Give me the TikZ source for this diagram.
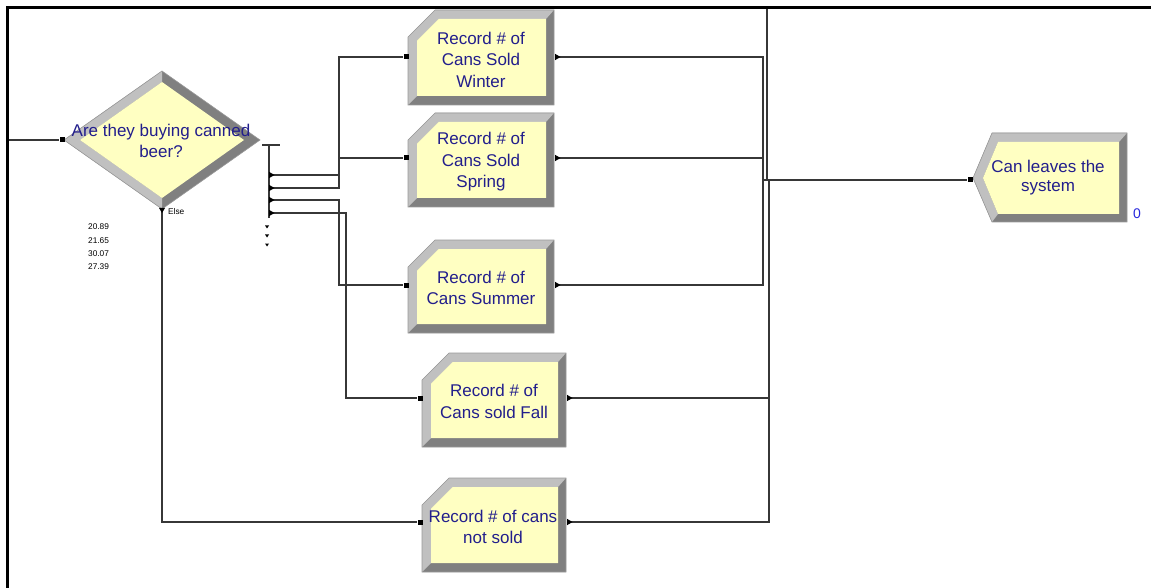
\documentclass[tikz,border=0pt]{standalone}
\usepackage{fontspec}
\setmainfont{Liberation Sans}
\definecolor{modfill}{RGB}{255,255,194}
\definecolor{bevlight}{RGB}{192,192,192}
\definecolor{bevdark}{RGB}{128,128,128}
\definecolor{modtext}{RGB}{34,30,140}
\definecolor{wirecol}{RGB}{55,55,55}
\definecolor{countblue}{RGB}{40,40,220}

\tikzset{
  wire/.style={draw=wirecol,line width=1.3pt},
  frameline/.style={draw=black,line width=3pt},
  modlabel/.style={text=modtext,align=center,inner sep=0pt,
    font=\fontsize{17}{21.5}\selectfont},
  smalltxt/.style={inner sep=0pt,font=\fontsize{8.3}{13.3}\selectfont},
  inport/.style={rectangle,fill=black,minimum size=5pt,inner sep=0pt},
  outline/.style={draw=bevdark!80,line width=0.6pt},
}

% Arena-style "Record" module: bevelled box with a cut upper-left corner
\newcommand\recordbox[4]{% x1 y1 x2 y2
  \fill[bevdark] (#1,{#2+27}) -- ({#1+27},#2) -- (#3,#2) -- (#3,#4) -- (#1,#4) -- cycle;
  \fill[bevlight] (#1,#4) -- (#1,{#2+27}) -- ({#1+27},#2) -- (#3,#2)
     -- ({#3-8},{#2+9}) -- ({#1+30.7},{#2+9}) -- ({#1+9},{#2+30.7}) -- ({#1+9},{#4-9}) -- cycle;
  \fill[modfill] ({#1+9},{#2+30.7}) -- ({#1+30.7},{#2+9}) -- ({#3-8},{#2+9})
     -- ({#3-8},{#4-9}) -- ({#1+9},{#4-9}) -- cycle;
  \draw[outline] (#1,{#2+27}) -- ({#1+27},#2) -- (#3,#2) -- (#3,#4) -- (#1,#4) -- cycle;
}
% small exit marker pointing right
\newcommand\exitmark[1]{\fill[black] (#1) ++(0,-3.2) -- ++(5.5,3.2) -- ++(-5.5,3.2) -- cycle;}
% tiny unused exit marker pointing down
\newcommand\spareexit[1]{\fill[black] (#1) ++(-2,-1.5) -- ++(4,0) -- ++(-2,3) -- cycle;}

\begin{document}
\begin{tikzpicture}[x=1pt,y=-1pt]
\useasboundingbox (0,0) rectangle (1151,588);

% ---------- frame ----------
\draw[frameline] (1151,8) -- (7,8) -- (7,588);

% ---------- Decide module ----------
\fill[bevdark] (64,140) -- (162,71) -- (260,140) -- (162,209) -- cycle;
\fill[bevlight] (64,140) -- (162,71) -- (162,82) -- (80,140) -- (162,198) -- (162,209) -- cycle;
\fill[modfill] (80,140) -- (162,82) -- (244,140) -- (162,198) -- cycle;
\draw[outline] (64,140) -- (162,71) -- (260,140) -- (162,209) -- cycle;
\node[modlabel] (decide) at (161,141) {Are they buying canned\\beer?};

\coordinate (src) at (8.5,140);
\node[inport] (decide-in) at (62,140) {};
\coordinate (decide-else) at (162,209);
\coordinate (stubL) at (262,145);
\coordinate (stubR) at (280,145);
\coordinate (stubB) at (269,218);
\coordinate (e1) at (269,175);
\coordinate (e2) at (269,188);
\coordinate (e3) at (269,200);
\coordinate (e4) at (269,213);
\coordinate (s1) at (267,227);
\coordinate (s2) at (267,236);
\coordinate (s3) at (267,245);

\node[smalltxt,anchor=west] (elsetxt) at (168,212) {Else};
\node[smalltxt,anchor=north west,align=left] (pcts) at (88,224)
  {20.89\\21.65\\30.07\\27.39};

% ---------- Record modules ----------
\recordbox{408}{10}{554}{105}
\node[modlabel] (winter) at (481,59.5) {Record \# of\\Cans Sold\\Winter};
\recordbox{408}{113}{554}{207}
\node[modlabel] (spring) at (481,162) {Record \# of\\Cans Sold\\Spring};
\recordbox{408}{240}{554}{333}
\node[modlabel] (summer) at (481,288) {Record \# of\\Cans Summer};
\recordbox{422}{353}{566}{447}
\node[modlabel] (fall) at (494,401.5) {Record \# of\\Cans sold Fall};
\recordbox{422}{478}{566}{572}
\node[modlabel] (notsold) at (493,527) {Record \# of cans\\not sold};

\node[inport] (winter-in) at (406,57) {};
\node[inport] (spring-in) at (406,158) {};
\node[inport] (summer-in) at (406,285) {};
\node[inport] (fall-in) at (420,398) {};
\node[inport] (notsold-in) at (420,522) {};
\coordinate (winter-out) at (555,57);
\coordinate (spring-out) at (555,158);
\coordinate (summer-out) at (555,285);
\coordinate (fall-out) at (567,398);
\coordinate (notsold-out) at (567,522);

% ---------- Dispose module ----------
\fill[bevdark] (973,178) -- (992,133) -- (1127,133) -- (1127,222) -- (992,222) -- cycle;
\fill[bevlight] (992,222) -- (973,178) -- (992,133) -- (1127,133) -- (1119,142)
   -- (998,142) -- (983,178) -- (998,214) -- cycle;
\fill[modfill] (983,178) -- (998,142) -- (1119,142) -- (1119,214) -- (998,214) -- cycle;
\draw[outline] (973,178) -- (992,133) -- (1127,133) -- (1127,222) -- (992,222) -- cycle;
\node[modlabel,font=\fontsize{17}{19}\selectfont] (dispose) at (1048,177.5) {Can leaves the\\system};
\node[inner sep=0pt,text=countblue,font=\fontsize{14}{14}\selectfont] (count) at (1137,214) {0};
\node[inport] (dispose-in) at (970,180) {};

% ---------- connectors ----------
\coordinate (topin) at (767,9.5);
\coordinate (joinA) at (763,180);
\coordinate (joinB) at (769,180);
\coordinate (joinC) at (767,180);

\draw[wire] (src) -- (decide-in);
\draw[wire] (stubL) -- (stubR);
\draw[wire] (269,145) -- (stubB);
\draw[wire] (e1) -- ++(70,0) |- (winter-in);
\draw[wire] (e2) -- ++(70,0) |- (spring-in);
\draw[wire] (e3) -- ++(70,0) |- (summer-in);
\draw[wire] (e4) -- ++(77,0) |- (fall-in);
\draw[wire] (decide-else) |- (notsold-in);

\draw[wire] (winter-out) -| (joinA);
\draw[wire] (spring-out) -| (joinA);
\draw[wire] (summer-out) -| (joinA);
\draw[wire] (fall-out) -| (joinB);
\draw[wire] (notsold-out) -| (joinB);
\draw[wire] (topin) -- (joinC);
\draw[wire] (joinA) -- (dispose-in);

% exit markers
\exitmark{e1}\exitmark{e2}\exitmark{e3}\exitmark{e4}
\exitmark{winter-out}\exitmark{spring-out}\exitmark{summer-out}
\exitmark{fall-out}\exitmark{notsold-out}
\fill[black] (decide-else) ++(-3,-1) -- ++(6,0) -- ++(-3,5) -- cycle;
\spareexit{s1}\spareexit{s2}\spareexit{s3}
\end{tikzpicture}
\end{document}
